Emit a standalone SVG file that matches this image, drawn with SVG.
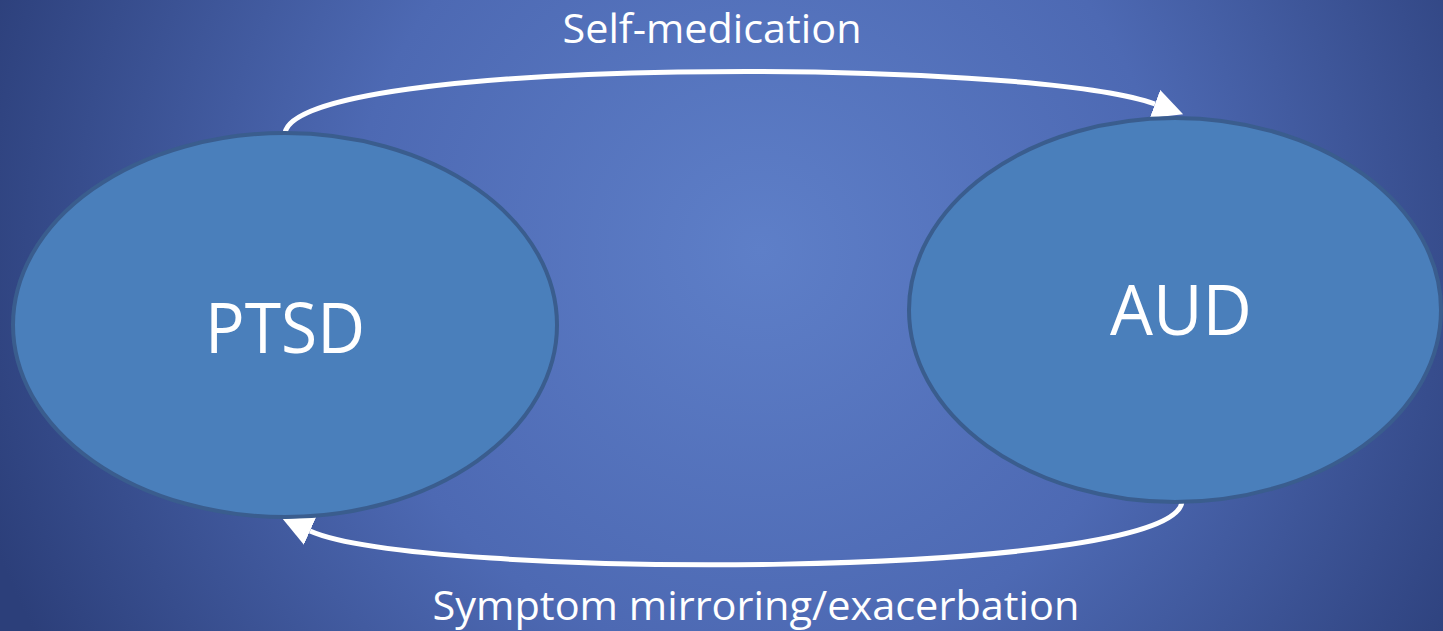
<svg xmlns="http://www.w3.org/2000/svg" width="1443" height="631" viewBox="0 0 1443 631">
<defs>
<radialGradient id="bg" gradientUnits="userSpaceOnUse" cx="760" cy="250" r="820">
<stop offset="0" stop-color="#5e7fc8"/>
<stop offset="0.5" stop-color="#4d69b3"/>
<stop offset="1" stop-color="#2c3f7a"/>
</radialGradient>
<marker id="arr" viewBox="0 0 10 10" refX="0" refY="5" markerWidth="6" markerHeight="6" orient="auto" markerUnits="strokeWidth">
<path d="M0,0 L10,5 L0,10 Z" fill="#ffffff"/>
</marker>
<style>
.node{fill:#4a7fbb;stroke:#3a5d8e;stroke-width:4}
.lbl{font-family:"Open Sans","Noto Sans",sans-serif;fill:#ffffff}
.conn{fill:none;stroke:#ffffff;stroke-width:5}
</style>
</defs>
<rect x="0" y="0" width="1443" height="631" fill="url(#bg)"/>
<g id="connectors">
<path class="conn" d="M285,133 C298,55 1030,58 1155,104" marker-end="url(#arr)"/>
<path class="conn" d="M1182,502 C1172,580 420,580 310,531" marker-end="url(#arr)"/>
<text class="lbl" x="712" y="43" font-size="41" text-anchor="middle" textLength="299" lengthAdjust="spacingAndGlyphs">Self-medication</text>
<text class="lbl" x="756" y="620" font-size="41" text-anchor="middle" textLength="647" lengthAdjust="spacingAndGlyphs">Symptom mirroring/exacerbation</text>
</g>
<g id="ptsd">
<ellipse class="node" cx="285" cy="325" rx="272" ry="192"/>
<text class="lbl" x="285" y="353" font-size="70" text-anchor="middle" textLength="160" lengthAdjust="spacingAndGlyphs">PTSD</text>
</g>
<g id="aud">
<ellipse class="node" cx="1175" cy="310" rx="266" ry="192"/>
<text class="lbl" x="1181" y="335" font-size="70" text-anchor="middle" textLength="142" lengthAdjust="spacingAndGlyphs">AUD</text>
</g>
</svg>
